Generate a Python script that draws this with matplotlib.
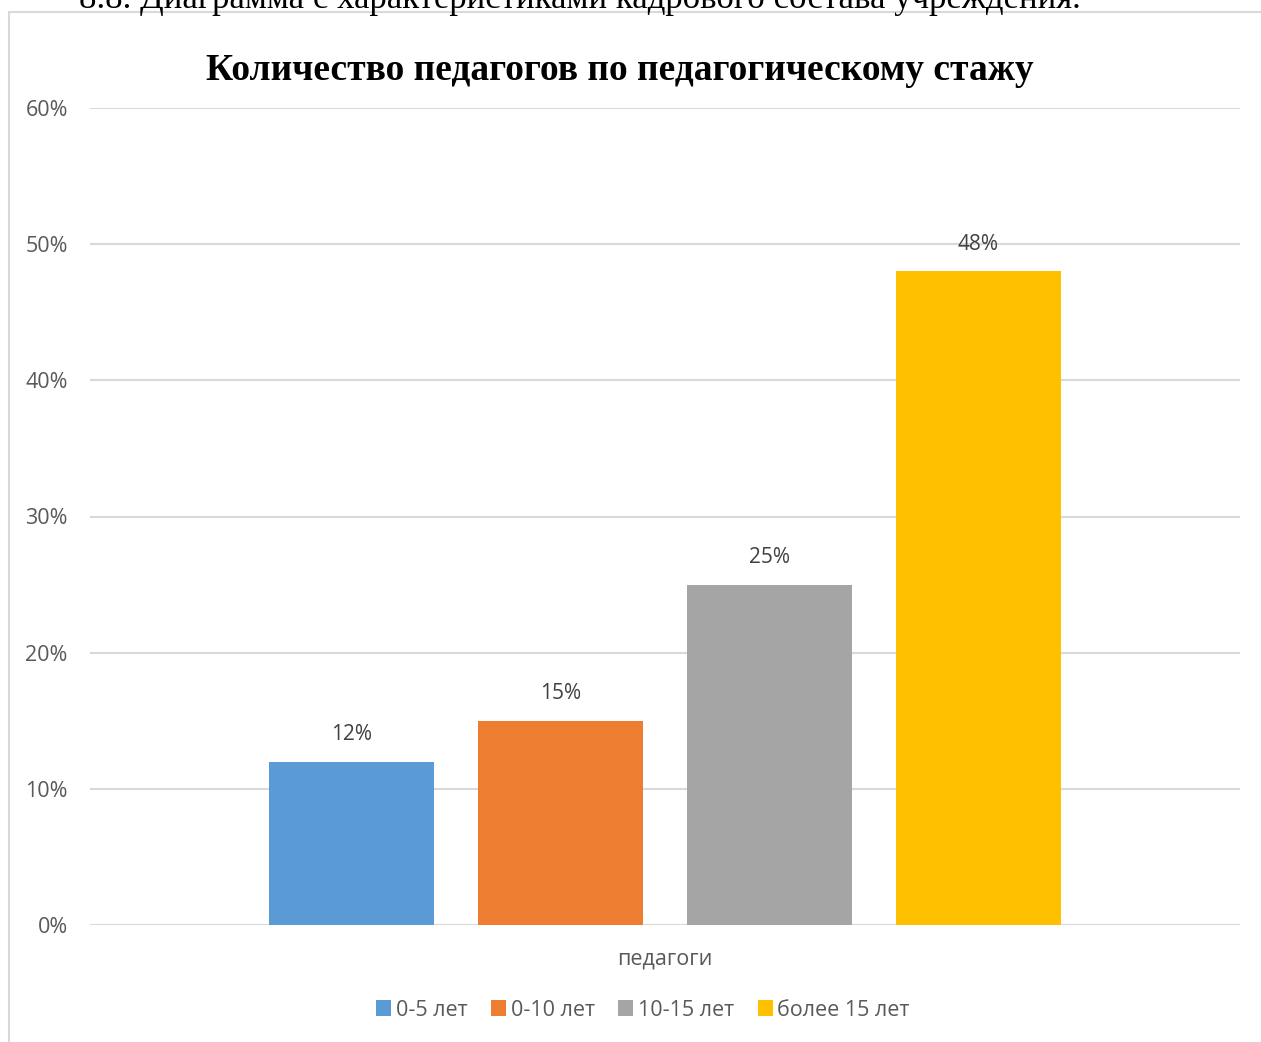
import matplotlib.pyplot as plt
from matplotlib.patches import Rectangle
from matplotlib.ticker import PercentFormatter

categories = ['0-5 лет', '0-10 лет', '10-15 лет', 'более 15 лет']
values = [0.12, 0.15, 0.25, 0.48]
colors = ['#5b9bd5', '#ed7d31', '#a5a5a5', '#ffc000']
group_label = 'педагоги'
title = 'Количество педагогов по педагогическому стажу'
caption = '8.8. Диаграмма с характеристиками кадрового состава учреждения.'

W, H = 1261, 1042
fig = plt.figure(figsize=(W / 100, H / 100), dpi=100)

# chart frame
fig.patches.append(Rectangle((9 / W, -0.01), (W - 8) / W, (H - 12) / H + 0.01,
                             transform=fig.transFigure, fill=False,
                             edgecolor='#d9d9d9', linewidth=1.5))

# caption of the page, cut by the top edge as in the source
fig.text(0.5 * (80 + 1080) / W, 1 - 8 / H, caption, ha='center', va='baseline',
         family='Liberation Serif', fontsize=25, color='black')

ax = fig.add_axes([90 / W, (H - 925) / H, 1150 / W, 817 / H])

pos = [-1.5, -0.5, 0.5, 1.5]
for x, v, c, lab in zip(pos, values, colors, categories):
    ax.bar(x, v, width=165 / 209, color=c, label=lab, zorder=3)
    ax.text(x, v + 0.012, f'{round(v * 100)}%', ha='center', va='bottom',
            fontsize=15, color='#404040', family='Open Sans')

ax.set_xlim(-575 / 209, 575 / 209)
ax.set_ylim(0, 0.6)
ax.set_yticks([0, 0.1, 0.2, 0.3, 0.4, 0.5, 0.6])
ax.yaxis.set_major_formatter(PercentFormatter(1.0, decimals=0))
ax.grid(axis='y', color='#d9d9d9', linewidth=1.5, zorder=0)
ax.set_xticks([0])
ax.set_xticklabels([group_label])
for s in ax.spines.values():
    s.set_visible(False)
ax.tick_params(length=0, labelsize=15.5, labelcolor='#595959')
ax.tick_params(axis='y', pad=16)
ax.tick_params(axis='x', pad=17)
for t in ax.get_yticklabels() + ax.get_xticklabels():
    t.set_family('Open Sans')

fig.text(620 / W, 1 - 70 / H, title, ha='center', va='center',
         family='Liberation Serif', fontweight='bold', fontsize=27)

leg = fig.legend(loc='center', bbox_to_anchor=(643 / W, 1 - 1010 / H), ncol=4,
                 frameon=False, handlelength=0.7, handleheight=0.7,
                 handletextpad=0.2, columnspacing=1.1,
                 prop={'family': 'Open Sans', 'size': 15.5})
for t in leg.get_texts():
    t.set_color('#595959')

fig.savefig('out.png', dpi=100)
